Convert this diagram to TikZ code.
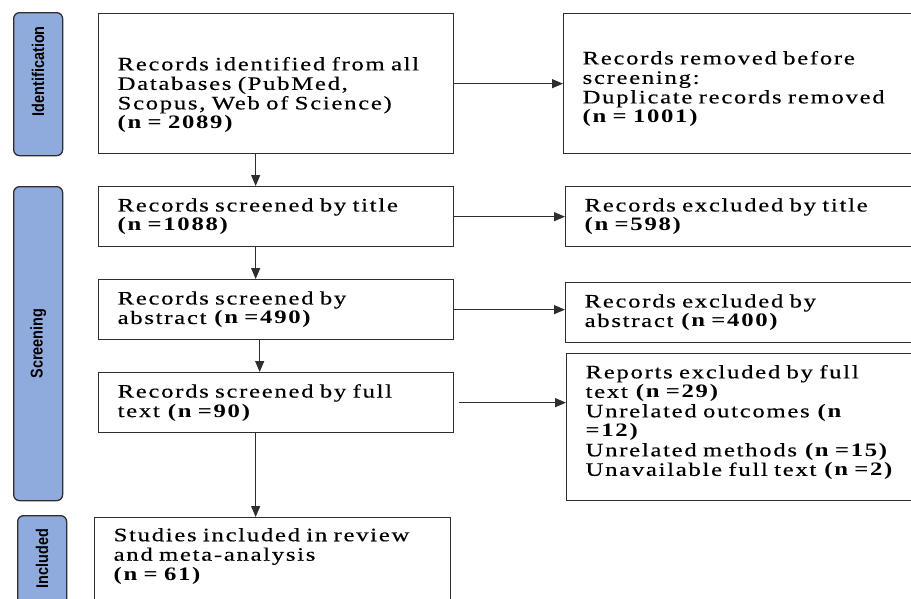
\documentclass[tikz,border=0pt]{standalone}
\usepackage{fontspec}
\usepackage{graphicx}
\usepackage{xcolor}
\usepackage{tikz}
\usetikzlibrary{positioning,calc,arrows.meta}
\newfontfamily\boxfont{Liberation Serif}[FakeStretch=1.3,LetterSpace=9,WordSpace=3,UprightFeatures={FakeBold=0.4}]
\newfontfamily\tagfont{Liberation Sans}[FakeStretch=0.85]
\definecolor{tagblue}{HTML}{8FAADC}
\definecolor{edgegray}{HTML}{2E2E2E}

\begin{document}
\begin{tikzpicture}[x=1pt, y=-1pt,
    prisma box/.style={draw=edgegray, line width=1.3pt, rectangle, anchor=north west, inner xsep=19pt, inner ysep=0pt, align=left, font=\boxfont\fontsize{19}{19.5}\selectfont},
    phase tag/.style={draw=edgegray, fill=tagblue, line width=1.3pt, rounded corners=6pt, anchor=north west, minimum width=49pt, inner sep=0pt, font=\tagfont\bfseries\fontsize{17}{17}\selectfont},
    flow/.style={draw=edgegray, line width=1.2pt, -{Triangle[length=11pt,width=9pt]}}]
    \useasboundingbox (0,0) rectangle (911,598);
    \clip (0,0) rectangle (911,598);

    \node[phase tag, minimum height=143pt, text depth=26pt] (tagid) at (13,12) {\rotatebox{90}{Identification}};
    \node[phase tag, minimum height=314pt] (tagscreen) at (13,186) {\rotatebox{90}{Screening}};
    \node[phase tag, minimum height=125pt, text depth=39pt] (tagincl) at (17,515) {\rotatebox{90}{Included}};

    \node[prisma box, text width=317pt, minimum height=140pt, text height=36pt] (ident) at (98,13) {Records identified from all\\Databases (PubMed,\\Scopus, Web of Science)\\\textbf{(n = 2089)}};
    \node[prisma box, text width=317pt, minimum height=60pt] (title) at (98,186) {Records screened by title\\\textbf{(n =1088)}};
    \node[prisma box, text width=317pt, minimum height=60pt] (abstr) at (98,279) {Records screened by\\abstract \textbf{(n =490)}};
    \node[prisma box, text width=317pt, minimum height=60pt] (full) at (98,372) {Records screened by full\\text \textbf{(n =90)}};
    \node[prisma box, text width=318pt, minimum height=110pt, text depth=76pt] (incl) at (94,517) {Studies included in review\\and meta-analysis\\\textbf{(n = 61)}};

    \node[prisma box, text width=332pt, minimum height=140pt, text height=24pt] (dup) at (563,13) {Records removed before\\screening:\\Duplicate records removed\\\textbf{(n = 1001)}};
    \node[prisma box, text width=332pt, minimum height=60pt] (extitle) at (565,186) {Records excluded by title\\\textbf{(n =598)}};
    \node[prisma box, text width=332pt, minimum height=60pt] (exabs) at (565,282) {Records excluded by\\abstract \textbf{(n =400)}};
    \node[prisma box, text width=332pt, minimum height=147pt, text depth=111pt] (exfull) at (566,353) {Reports excluded by full\\text \textbf{(n =29)}\\Unrelated outcomes \textbf{(n}\\\textbf{=12)}\\Unrelated methods \textbf{(n =15)}\\Unavailable full text \textbf{(n =2)}};

    \draw[flow] ([xshift=-20.5pt]ident.south) -- ([xshift=-20.5pt]title.north);
    \draw[flow] ([xshift=-20.5pt]title.south) -- ([xshift=-20.5pt]abstr.north);
    \draw[flow] ([xshift=-16.5pt]abstr.south) -- ([xshift=-16.5pt]full.north);
    \draw[flow] ([xshift=-20.5pt]full.south) -- ([xshift=-20.5pt]full.south |- incl.north);

    \draw[flow] (ident.east) -- (dup.west);
    \draw[flow] (title.east) -- (title.east -| extitle.west);
    \draw[flow] (abstr.east) -- (abstr.east -| exabs.west);
    \draw[flow] ([xshift=5pt]full.east) -- (full.east -| exfull.west);
\end{tikzpicture}
\end{document}
